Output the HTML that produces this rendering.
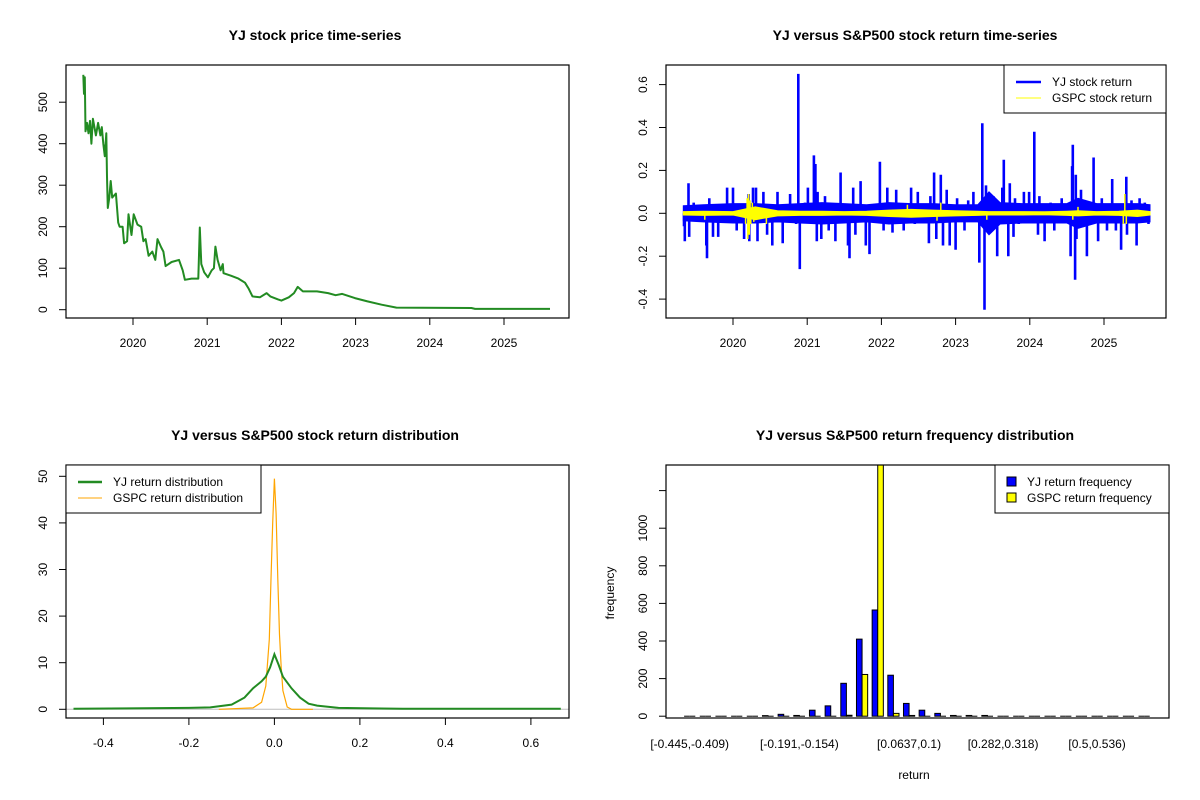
<!DOCTYPE html>
<html><head><meta charset="utf-8">
<style>
html,body{margin:0;padding:0;background:#fff;}
svg{display:block;font-family:"Liberation Sans",Arial,sans-serif;}
</style></head>
<body>
<svg id="chart" width="1200" height="800" viewBox="0 0 1200 800"></svg>
<script>
// ---------- DATA ----------
const priceDates = [2019.33,2019.34,2019.35,2019.36,2019.38,2019.40,2019.42,2019.44,2019.46,2019.50,2019.53,2019.56,2019.58,2019.60,2019.62,2019.64,2019.65,2019.66,2019.68,2019.70,2019.72,2019.77,2019.80,2019.82,2019.86,2019.88,2019.92,2019.94,2019.98,2020.01,2020.06,2020.11,2020.14,2020.17,2020.21,2020.26,2020.30,2020.33,2020.38,2020.41,2020.44,2020.52,2020.62,2020.67,2020.70,2020.79,2020.88,2020.90,2020.92,2020.96,2021.01,2021.06,2021.09,2021.11,2021.14,2021.18,2021.21,2021.22,2021.32,2021.42,2021.51,2021.56,2021.61,2021.71,2021.80,2021.85,2021.95,2022.00,2022.10,2022.17,2022.22,2022.29,2022.48,2022.63,2022.73,2022.82,2022.99,2023.16,2023.35,2023.55,2024.56,2024.61,2025.62];
const priceValues = [566,520,560,430,450,425,455,400,460,420,450,420,440,400,370,425,320,245,270,310,270,280,210,200,200,160,165,230,180,230,205,200,165,170,130,140,120,170,150,140,105,115,120,95,72,75,75,198,110,90,78,95,100,152,120,95,110,88,82,75,65,50,32,30,40,32,25,22,30,40,55,44,44,40,35,38,28,20,12,5,4,2,2];
const priceTicks = [0,100,200,300,400,500];
const yearTicks = [2020,2021,2022,2023,2024,2025];

const retDates = [2019.34,2019.35,2019.36,2019.40,2019.41,2019.47,2019.56,2019.64,2019.65,2019.68,2019.73,2019.80,2019.92,2020.00,2020.05,2020.15,2020.21,2020.22,2020.27,2020.31,2020.33,2020.41,2020.46,2020.53,2020.60,2020.67,2020.77,2020.85,2020.88,2020.90,2020.97,2021.01,2021.07,2021.09,2021.11,2021.13,2021.14,2021.19,2021.24,2021.29,2021.38,2021.45,2021.55,2021.57,2021.62,2021.65,2021.72,2021.79,2021.84,2021.98,2022.03,2022.08,2022.15,2022.20,2022.30,2022.40,2022.45,2022.49,2022.54,2022.64,2022.66,2022.71,2022.74,2022.80,2022.83,2022.88,2022.92,2022.95,2023.00,2023.02,2023.12,2023.17,2023.24,2023.32,2023.36,2023.39,2023.41,2023.43,2023.51,2023.56,2023.63,2023.65,2023.71,2023.73,2023.78,2023.80,2023.85,2023.92,2023.99,2024.06,2024.11,2024.13,2024.20,2024.28,2024.33,2024.43,2024.55,2024.57,2024.58,2024.61,2024.62,2024.63,2024.69,2024.77,2024.86,2024.92,2024.97,2025.04,2025.11,2025.16,2025.23,2025.30,2025.31,2025.37,2025.44,2025.48,2025.55,2025.60];
const yjReturns = [-0.06,-0.13,0.03,0.14,-0.11,0.05,0.03,-0.15,-0.21,0.07,-0.11,-0.11,0.12,0.12,-0.08,-0.12,0.09,-0.13,0.12,0.12,-0.13,0.10,-0.10,-0.15,0.10,-0.14,0.09,-0.05,0.65,-0.26,0.05,0.12,-0.05,0.27,0.23,-0.13,0.10,-0.12,0.08,-0.08,-0.13,0.19,-0.15,-0.21,0.12,-0.10,0.15,-0.15,-0.19,0.24,-0.08,0.12,-0.09,0.11,-0.08,0.12,-0.05,0.10,0.04,-0.14,0.08,0.19,-0.12,0.18,-0.15,0.11,-0.15,0.03,-0.17,0.07,-0.08,0.06,0.10,-0.23,0.42,-0.45,0.13,-0.07,0.08,-0.20,0.12,0.25,-0.20,0.14,-0.11,0.07,-0.05,0.10,0.10,0.38,-0.10,0.08,-0.13,0.05,-0.08,0.07,-0.20,0.22,0.32,-0.31,0.18,-0.12,0.11,-0.20,0.26,-0.13,0.07,-0.08,0.16,-0.08,-0.17,0.17,-0.10,0.06,-0.15,0.07,0.05,-0.05];
// typical daily amplitude (volatility envelope) over time
const bandDates = [2019.33,2019.6,2020.0,2020.3,2020.6,2020.9,2021.2,2021.5,2021.8,2022.1,2022.4,2022.7,2023.0,2023.3,2023.45,2023.6,2023.9,2024.2,2024.5,2024.65,2024.9,2025.2,2025.45,2025.62];
const yjBand = [0.035,0.04,0.045,0.045,0.04,0.045,0.05,0.045,0.04,0.05,0.045,0.045,0.04,0.04,0.1,0.05,0.045,0.045,0.045,0.07,0.045,0.045,0.045,0.04];
const gspcBand = [0.008,0.01,0.008,0.03,0.012,0.01,0.01,0.008,0.01,0.015,0.018,0.015,0.012,0.01,0.008,0.008,0.008,0.007,0.01,0.012,0.008,0.01,0.015,0.008];
const gspcDates = [2019.62,2020.17,2020.19,2020.20,2020.21,2020.22,2020.23,2020.24,2020.26,2020.28,2020.45,2022.35,2022.75,2022.80,2023.42,2024.58,2024.65,2025.26,2025.28,2025.30];
const gspcReturns = [-0.03,-0.05,0.07,-0.12,0.09,-0.10,0.06,-0.05,0.05,-0.04,-0.05,0.04,-0.035,0.05,-0.03,-0.03,0.03,-0.05,0.09,-0.05];
const retTicks = [-0.4,-0.2,0.0,0.2,0.4,0.6];

const yjDensX = [-0.47,-0.2,-0.15,-0.1,-0.07,-0.05,-0.03,-0.02,-0.01,0,0.01,0.02,0.04,0.06,0.08,0.1,0.15,0.23,0.3,0.67];
const yjDensY = [0.1,0.3,0.4,1.0,2.5,4.5,6.0,7.0,9.0,11.8,9.5,7.0,4.5,2.5,1.2,0.8,0.3,0.2,0.1,0.1];
const gspcDensX = [-0.13,-0.05,-0.03,-0.02,-0.012,-0.008,-0.004,0,0.004,0.008,0.012,0.016,0.02,0.03,0.04,0.09];
const gspcDensY = [0,0.3,1.5,5,15,28,40,49.5,42,28,16,9,4,0.5,0,0];
const densXTicks = [-0.4,-0.2,0.0,0.2,0.4,0.6];
const densYTicks = [0,10,20,30,40,50];

const binLabels = ["[-0.445,-0.409)","[-0.191,-0.154)","[0.0637,0.1)","[0.282,0.318)","[0.5,0.536)"];
const binLabelIdx = [0,7,14,20,26];
const yjFreq =   [0,0,0,0,0,3,10,4,32,55,175,410,565,218,68,32,15,4,4,4,0,0,0,0,0,0,0,0,0,0];
const gspcFreq = [0,0,0,0,0,0,0,0,0,0,5,222,1500,15,4,0,0,0,0,0,0,0,0,0,0,0,0,0,0,0];
const freqTicks = [0,200,400,600,800,1000,1200];

// ---------- HELPERS ----------
const NS="http://www.w3.org/2000/svg";
const svg=document.getElementById('chart');
function el(tag,attrs,parent){const e=document.createElementNS(NS,tag);for(const k in attrs)e.setAttribute(k,attrs[k]);(parent||svg).appendChild(e);return e;}
function txt(s,x,y,attrs,parent){const t=el('text',Object.assign({x:x,y:y},attrs),parent);t.textContent=s;return t;}
function frame(x0,y0,x1,y1,g){el('rect',{x:x0,y:y0,width:x1-x0,height:y1-y0,fill:'none',stroke:'#000','stroke-width':1.2},g);}
function path(xs,ys,sx,sy,attrs,g){let d='';for(let i=0;i<xs.length;i++)d+=(i?'L':'M')+sx(xs[i]).toFixed(1)+','+sy(ys[i]).toFixed(1);return el('path',Object.assign({d:d,fill:'none'},attrs),g);}
function band(xs,amps,sx,sy,attrs,g){let d='';for(let i=0;i<xs.length;i++)d+=(i?'L':'M')+sx(xs[i]).toFixed(1)+','+sy(amps[i]).toFixed(1);for(let i=xs.length-1;i>=0;i--)d+='L'+sx(xs[i]).toFixed(1)+','+sy(-amps[i]).toFixed(1);return el('path',Object.assign({d:d+'Z'},attrs),g);}
function spikes(xs,ys,sx,sy,attrs,g){let d='';for(let i=0;i<xs.length;i++){const x=sx(xs[i]).toFixed(1);d+='M'+x+','+sy(0).toFixed(1)+'L'+x+','+sy(ys[i]).toFixed(1);}return el('path',Object.assign({d:d,fill:'none'},attrs),g);}
function xAxis(ticks,sx,yb,fmt,g){for(const t of ticks){const x=sx(t);el('line',{x1:x,y1:yb,x2:x,y2:yb+7,stroke:'#000'},g);txt(fmt(t),x,yb+29,{'text-anchor':'middle','font-size':12},g);}}
function yAxis(ticks,sy,xl,fmt,g,skipLabel){for(const t of ticks){const y=sy(t);el('line',{x1:xl,y1:y,x2:xl-7,y2:y,stroke:'#000'},g);if(skipLabel&&skipLabel(t))continue;const tx=xl-19;txt(fmt(t),tx,y,{'text-anchor':'middle','font-size':12,transform:'rotate(-90 '+tx+' '+y+')'},g);}}

// ---------- PANEL 1 ----------
const g1=el('g',{});


const sx1=y=>133+(y-2020)*74.2, sy1=v=>309.7-v*0.415;
const l1=path(priceDates,priceValues,sx1,sy1,{stroke:'#228B22','stroke-width':2,'stroke-linejoin':'round'},g1);


frame(66,65,569,318,g1);
xAxis(yearTicks,sx1,318,String,g1);
yAxis(priceTicks,sy1,66,String,g1);
const t1=txt('YJ stock price time-series',315,40,{'text-anchor':'middle','font-size':14,'font-weight':'bold'},g1);



// ---------- PANEL 2 ----------
const g2=el('g',{});


const sx2=y=>733+(y-2020)*74.2, sy2=v=>213.3-v*214.5;
const b2=band(bandDates,yjBand,sx2,sy2,{fill:'#0000FF',stroke:'#0000FF','stroke-width':1},g2);


const l2=spikes(retDates,yjReturns,sx2,sy2,{stroke:'#0000FF','stroke-width':2.6},g2);


const b3=band(bandDates,gspcBand,sx2,sy2,{fill:'#FFFF00',stroke:'#FFFF00','stroke-width':1},g2);


const l3=spikes(gspcDates,gspcReturns,sx2,sy2,{stroke:'#FFFF00','stroke-width':1.5},g2);


frame(666,65,1166,318,g2);
xAxis(yearTicks,sx2,318,String,g2);
yAxis(retTicks,sy2,666,t=>t.toFixed(1),g2);
const lg2=el('g',{},g2);


el('rect',{x:1004,y:65,width:162,height:48,fill:'#fff',stroke:'#000','stroke-width':1},lg2);
el('line',{x1:1016,y1:82,x2:1041,y2:82,stroke:'#0000FF','stroke-width':2.5},lg2);
el('line',{x1:1016,y1:98,x2:1041,y2:98,stroke:'#FFFF00','stroke-width':1},lg2);
txt('YJ stock return',1052,86,{'font-size':12},lg2);
txt('GSPC stock return',1052,102,{'font-size':12},lg2);
const t2=txt('YJ versus S&P500 stock return time-series',915,40,{'text-anchor':'middle','font-size':14,'font-weight':'bold'},g2);



// ---------- PANEL 3 ----------
const g3=el('g',{});


const sx3=v=>274.4+v*427.5, sy3=v=>709.3-v*4.66;
el('line',{x1:66,y1:sy3(0),x2:569,y2:sy3(0),stroke:'#BEBEBE','stroke-width':1},g3);
const d2=path(gspcDensX,gspcDensY,sx3,sy3,{stroke:'#FFA500','stroke-width':1.2},g3);


const d1=path(yjDensX,yjDensY,sx3,sy3,{stroke:'#228B22','stroke-width':2},g3);


frame(66,465,569,718,g3);
xAxis(densXTicks,sx3,718,t=>t.toFixed(1),g3);
yAxis(densYTicks,sy3,66,String,g3);
const lg3=el('g',{},g3);


el('rect',{x:66,y:465,width:195,height:48,fill:'#fff',stroke:'#000','stroke-width':1},lg3);
el('line',{x1:78,y1:482,x2:102,y2:482,stroke:'#228B22','stroke-width':2.5},lg3);
el('line',{x1:78,y1:498,x2:102,y2:498,stroke:'#FFA500','stroke-width':1},lg3);
txt('YJ return distribution',113,486,{'font-size':12},lg3);
txt('GSPC return distribution',113,502,{'font-size':12},lg3);
const t3=txt('YJ versus S&P500 stock return distribution',315,440,{'text-anchor':'middle','font-size':14,'font-weight':'bold'},g3);



// ---------- PANEL 4 ----------
const g4=el('g',{});


const cx4=i=>689.7+i*15.67, sy4=v=>716.2-v*0.188;
const BW=5.6;
const clip=el('clipPath',{id:'c4'},g4);el('rect',{x:666,y:465,width:503,height:253},clip);
const bars=el('g',{'clip-path':'url(#c4)'},g4);
function bar(x0,v,fill,name){
  if(v<=0){const ln=el('line',{x1:x0,y1:sy4(0),x2:x0+BW,y2:sy4(0),stroke:'#000','stroke-width':1},bars);return;}
  const y=sy4(v);const r=el('rect',{x:x0,y:y,width:BW,height:sy4(0)-y,fill:fill,stroke:'#000','stroke-width':1},bars);
  
  
}
for(let i=0;i<yjFreq.length;i++){bar(cx4(i)-BW,yjFreq[i],'#0000FF','yj-freq-bar');bar(cx4(i),gspcFreq[i],'#FFFF00','gspc-freq-bar');}
frame(666,465,1169,718,g4);
yAxis(freqTicks,sy4,666,String,g4,t=>t>1000);
for(let k=0;k<binLabels.length;k++){txt(binLabels[k],cx4(binLabelIdx[k]),748,{'text-anchor':'middle','font-size':12},g4);}
txt('frequency',614,593,{'text-anchor':'middle','font-size':12,transform:'rotate(-90 614 593)'},g4);
txt('return',914,779,{'text-anchor':'middle','font-size':12},g4);
const lg4=el('g',{},g4);


el('rect',{x:995,y:465,width:174,height:48,fill:'#fff',stroke:'#000','stroke-width':1},lg4);
el('rect',{x:1007,y:477,width:9,height:9,fill:'#0000FF',stroke:'#000'},lg4);
el('rect',{x:1007,y:493,width:9,height:9,fill:'#FFFF00',stroke:'#000'},lg4);
txt('YJ return frequency',1027,486,{'font-size':12},lg4);
txt('GSPC return frequency',1027,502,{'font-size':12},lg4);
const t4=txt('YJ versus S&P500 return frequency distribution',915,440,{'text-anchor':'middle','font-size':14,'font-weight':'bold'},g4);


</script>
</body></html>
